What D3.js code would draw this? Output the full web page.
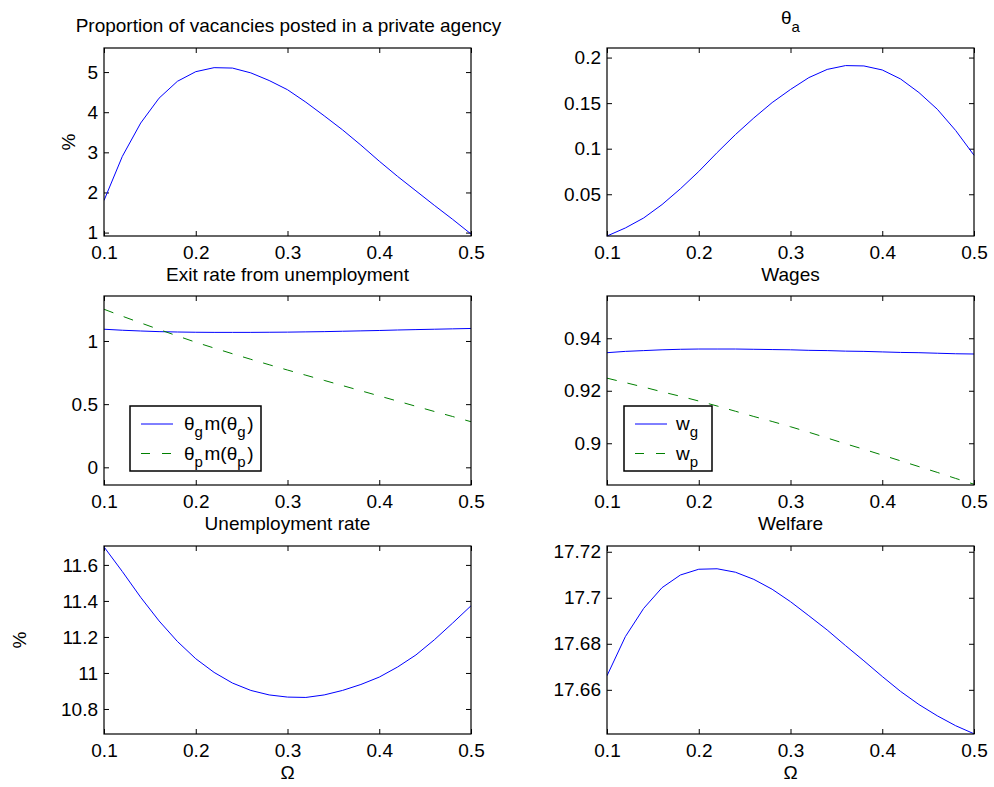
<!DOCTYPE html>
<html><head><meta charset="utf-8">
<script src="https://cdn.jsdelivr.net/npm/d3@7"></script>
<style>
body{margin:0;background:#fff}
text{font-family:"Liberation Sans",Arial,Helvetica,sans-serif;fill:#000}
</style>
</head><body>
<svg id="c" width="994" height="787"></svg>
<script>
// ---- data ----
const omega = [0.10,0.12,0.14,0.16,0.18,0.20,0.22,0.24,0.26,0.28,0.30,0.32,0.34,0.36,0.38,0.40,0.42,0.44,0.46,0.48,0.50];
const proportionPct = [1.80,2.90,3.73,4.35,4.77,5.01,5.11,5.10,4.98,4.79,4.56,4.25,3.91,3.56,3.18,2.78,2.40,2.04,1.68,1.33,0.965];
const thetaA = [0.0042,0.013,0.024,0.0387,0.056,0.075,0.0957,0.1155,0.1337,0.1506,0.1650,0.178,0.187,0.1912,0.1908,0.1864,0.1765,0.1616,0.1433,0.120,0.0928];
const exitG = [1.093,1.085,1.079,1.074,1.071,1.069,1.068,1.068,1.068,1.069,1.070,1.072,1.074,1.077,1.080,1.083,1.087,1.090,1.093,1.096,1.099];
const exitP = [1.251,1.196,1.143,1.091,1.040,0.990,0.944,0.899,0.855,0.812,0.770,0.729,0.688,0.647,0.606,0.565,0.524,0.483,0.442,0.402,0.361];
const wageG = [0.9345,0.9350,0.9353,0.9356,0.9358,0.9359,0.9359,0.9359,0.9358,0.9357,0.9356,0.9354,0.9353,0.9351,0.9350,0.9348,0.9346,0.9345,0.9343,0.9341,0.9340];
const wageP = [0.9248,0.9231,0.9214,0.9196,0.9179,0.9161,0.9142,0.9122,0.9102,0.9083,0.9063,0.9042,0.9020,0.8998,0.8977,0.8955,0.8933,0.8911,0.8889,0.8866,0.8844];
const unemploymentPct = [11.70,11.563,11.42,11.289,11.175,11.079,11.003,10.944,10.903,10.878,10.866,10.864,10.878,10.903,10.936,10.977,11.033,11.10,11.184,11.277,11.373];
const welfare = [17.6661,17.6831,17.6954,17.7044,17.7099,17.7124,17.7126,17.7111,17.708,17.7037,17.6983,17.6922,17.686,17.6792,17.6726,17.6658,17.6593,17.6536,17.6487,17.6444,17.6409];

const xTicks = [0.1,0.2,0.3,0.4,0.5];
const xTickLabels = ["0.1","0.2","0.3","0.4","0.5"];

const svg = d3.select("#c");
const FS = 19;
const BLUE = "#0000ff", GREEN = "#008000";

function panel(o){
  const x = d3.scaleLinear().domain([0.1,0.5]).range([o.x0,o.x1]);
  const y = d3.scaleLinear().domain(o.yDomain).range([o.y1,o.y0]);
  const g = svg.append("g");
  g.append("g").attr("transform",`translate(0,${o.y1})`)
    .call(d3.axisBottom(x).tickValues(xTicks).tickFormat((d,i)=>xTickLabels[i]).tickSizeInner(-5).tickSizeOuter(0).tickPadding(10))
    .call(a=>{a.select(".domain").remove();a.selectAll("text").attr("font-size",FS).attr("font-family",null);});
  g.append("g").attr("transform",`translate(0,${o.y0})`)
    .call(d3.axisTop(x).tickValues(xTicks).tickFormat("").tickSizeInner(-5).tickSizeOuter(0))
    .call(a=>a.select(".domain").remove());
  g.append("g").attr("transform",`translate(${o.x0},0)`)
    .call(d3.axisLeft(y).tickValues(o.yTicks).tickFormat((d,i)=>o.yTickLabels[i]).tickSizeInner(-5).tickSizeOuter(0).tickPadding(6))
    .call(a=>{a.select(".domain").remove();a.selectAll("text").attr("font-size",FS).attr("font-family",null);});
  g.append("g").attr("transform",`translate(${o.x1},0)`)
    .call(d3.axisRight(y).tickValues(o.yTicks).tickFormat("").tickSizeInner(-5).tickSizeOuter(0))
    .call(a=>a.select(".domain").remove());
  g.selectAll(".tick line").attr("stroke","#000");
  const cid = "clip"+o.id;
  svg.append("clipPath").attr("id",cid).append("rect")
    .attr("x",o.x0).attr("y",o.y0-1).attr("width",o.x1-o.x0+1).attr("height",o.y1-o.y0+2);
  const line = d3.line().x((d,i)=>x(omega[i])).y(d=>y(d));
  o.series.forEach(s=>{
    g.append("path").attr("d",line(s.values)).attr("fill","none")
      .attr("stroke",s.color).attr("stroke-width",1)
      .attr("stroke-dasharray",s.dash||null)
      .attr("clip-path",`url(#${cid})`);
  });
  g.append("rect").attr("x",o.x0).attr("y",o.y0).attr("width",o.x1-o.x0).attr("height",o.y1-o.y0)
    .attr("fill","none").attr("stroke","#000").attr("stroke-width",1.2);
  if(o.xlabel){
    g.append("text").attr("x",(o.x0+o.x1)/2).attr("y",o.y1+45).attr("text-anchor","middle")
      .attr("font-size",FS).text(o.xlabel);
  }
  if(o.ylabel){
    g.append("text").attr("transform",`translate(${o.ylabelX},${(o.y0+o.y1)/2}) rotate(-90)`)
      .attr("text-anchor","middle").attr("font-size",FS).text(o.ylabel);
  }
  if(o.legend){
    const L = o.legend;
    g.append("rect").attr("x",L.x).attr("y",L.y).attr("width",L.w).attr("height",L.h)
      .attr("fill","#fff").attr("stroke","#000").attr("stroke-width",1.5);
    L.items.forEach((it,i)=>{
      const ly = L.y + 18 + i*29.5;
      g.append("line").attr("x1",L.x+11).attr("x2",L.x+43).attr("y1",ly).attr("y2",ly)
        .attr("stroke",it.color).attr("stroke-width",1).attr("stroke-dasharray",it.dash||null);
      const t = g.append("text").attr("x",L.x+L.tx).attr("y",ly+6).attr("font-size",FS);
      it.parts.forEach(p=>{
        if(p.sub){
          t.append("tspan").attr("font-size",15).attr("dy",7).text(p.t);
          t.append("tspan").attr("dy",-7).text("\u200A");
        } else t.append("tspan").text(p.t);
      });
    });
  }
  return {x,y,g};
}

const LX0=104, LX1=471, RX0=607, RX1=974;
const R1=[48,236], R2=[296,485], R3=[546,734];

panel({id:1,x0:LX0,x1:LX1,y0:R1[0],y1:R1[1],yDomain:[0.915,5.6],
  yTicks:[1,2,3,4,5],yTickLabels:["1","2","3","4","5"],
  series:[{values:proportionPct,color:BLUE}],
  xlabel:"Exit rate from unemployment",ylabel:"%",ylabelX:75});
svg.append("text").attr("x",(LX0+LX1)/2+1).attr("y",32).attr("text-anchor","middle")
  .attr("font-size",FS).text("Proportion of vacancies posted in a private agency");

panel({id:2,x0:RX0,x1:RX1,y0:R1[0],y1:R1[1],yDomain:[0.0042,0.2105],
  yTicks:[0.05,0.1,0.15,0.2],yTickLabels:["0.05","0.1","0.15","0.2"],
  series:[{values:thetaA,color:BLUE}],xlabel:"Wages"});
{
  const t = svg.append("text").attr("x",(RX0+RX1)/2).attr("y",23.5).attr("text-anchor","middle").attr("font-size",FS);
  t.append("tspan").text("θ");
  t.append("tspan").attr("font-size",15).attr("dy",8.5).text("a");
}

panel({id:3,x0:LX0,x1:LX1,y0:R2[0],y1:R2[1],yDomain:[-0.14,1.356],
  yTicks:[0,0.5,1],yTickLabels:["0","0.5","1"],
  series:[{values:exitG,color:BLUE},{values:exitP,color:GREEN,dash:"10,11"}],
  xlabel:"Unemployment rate",
  legend:{x:130,y:406,w:131,h:65,tx:54,items:[
    {color:BLUE,parts:[{t:"θ"},{t:"g",sub:true},{t:"m(θ"},{t:"g",sub:true},{t:")"}]},
    {color:GREEN,dash:"9,12",parts:[{t:"θ"},{t:"p",sub:true},{t:"m(θ"},{t:"p",sub:true},{t:")"}]}
  ]}});

panel({id:4,x0:RX0,x1:RX1,y0:R2[0],y1:R2[1],yDomain:[0.8841,0.9561],
  yTicks:[0.9,0.92,0.94],yTickLabels:["0.9","0.92","0.94"],
  series:[{values:wageG,color:BLUE},{values:wageP,color:GREEN,dash:"10,11"}],
  xlabel:"Welfare",
  legend:{x:624,y:406,w:88,h:65,tx:52,items:[
    {color:BLUE,parts:[{t:"w"},{t:"g",sub:true}]},
    {color:GREEN,dash:"9,12",parts:[{t:"w"},{t:"p",sub:true}]}
  ]}});

panel({id:5,x0:LX0,x1:LX1,y0:R3[0],y1:R3[1],yDomain:[10.661,11.705],
  yTicks:[10.8,11,11.2,11.4,11.6],yTickLabels:["10.8","11","11.2","11.4","11.6"],
  series:[{values:unemploymentPct,color:BLUE}],
  xlabel:"Ω",ylabel:"%",ylabelX:26});

panel({id:6,x0:RX0,x1:RX1,y0:R3[0],y1:R3[1],yDomain:[17.6408,17.7225],
  yTicks:[17.66,17.68,17.7,17.72],yTickLabels:["17.66","17.68","17.7","17.72"],
  series:[{values:welfare,color:BLUE}],xlabel:"Ω"});
</script>
</body></html>
